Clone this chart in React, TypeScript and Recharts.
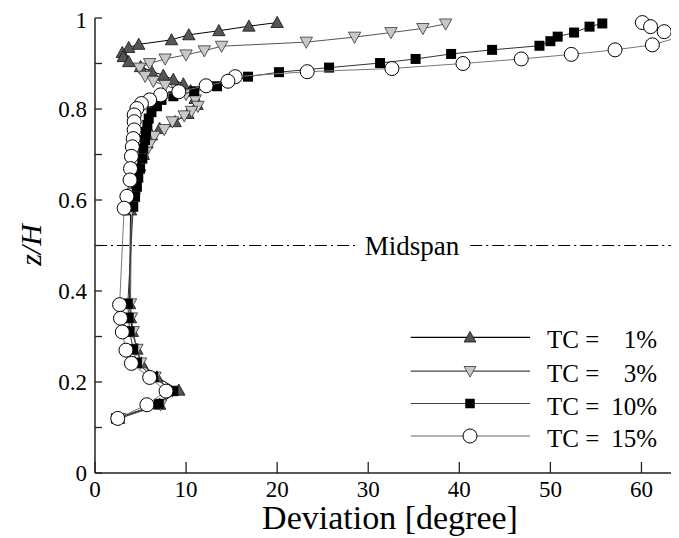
import React from 'react';
import { ScatterChart, Scatter, XAxis, YAxis, ReferenceLine, ReferenceDot, Legend, Label } from 'recharts';

const FONT = '"Liberation Serif", "Times New Roman", "DejaVu Serif", serif';

type P = [number, number];

// Deviation [degree], z/H
const tc1: P[] = [
  [20.0, 0.990], [16.9, 0.982], [13.6, 0.972], [10.3, 0.963], [8.4, 0.952], [4.8, 0.942],
  [3.7, 0.935], [3.0, 0.924], [3.1, 0.915], [3.7, 0.904], [5.0, 0.893], [6.2, 0.883],
  [7.5, 0.874], [8.6, 0.865], [9.7, 0.855], [10.5, 0.840], [11.0, 0.823], [11.2, 0.810],
  [10.2, 0.790], [8.8, 0.772], [7.1, 0.757], [6.2, 0.743], [5.7, 0.725], [5.3, 0.700],
  [4.9, 0.675], [4.6, 0.650], [4.3, 0.625], [4.0, 0.600], [3.9, 0.578], [3.8, 0.372],
  [3.9, 0.341], [4.1, 0.311], [4.6, 0.272], [5.1, 0.242], [6.8, 0.211], [9.2, 0.182],
  [7.1, 0.151], [2.6, 0.120],
];

const tc3: P[] = [
  [38.5, 0.987], [36.0, 0.977], [32.5, 0.968], [28.5, 0.958], [23.2, 0.947], [13.9, 0.938],
  [12.0, 0.928], [10.0, 0.919], [7.7, 0.910], [6.0, 0.900], [4.9, 0.890], [5.5, 0.872],
  [6.4, 0.861], [7.7, 0.852], [9.0, 0.843], [10.0, 0.832], [11.0, 0.820], [11.3, 0.806],
  [10.6, 0.795], [9.8, 0.785], [8.5, 0.772], [7.6, 0.755], [6.5, 0.740], [6.0, 0.722],
  [5.6, 0.705], [5.2, 0.685], [4.8, 0.662], [4.5, 0.640], [4.2, 0.615], [4.1, 0.590],
  [4.0, 0.578], [3.9, 0.372], [4.0, 0.341], [4.2, 0.311], [4.6, 0.272], [5.0, 0.242],
  [6.6, 0.211], [8.5, 0.180], [7.2, 0.150], [2.7, 0.120],
];

const tc10: P[] = [
  [55.7, 0.988], [54.3, 0.981], [52.6, 0.968], [50.8, 0.959], [50.0, 0.949], [48.8, 0.939],
  [43.6, 0.930], [39.1, 0.921], [35.2, 0.910], [31.3, 0.901], [25.7, 0.891], [20.2, 0.881],
  [16.8, 0.871], [13.4, 0.850], [10.9, 0.839], [8.6, 0.828], [7.3, 0.820], [6.8, 0.806],
  [6.2, 0.793], [5.9, 0.779], [5.75, 0.765], [5.6, 0.750], [5.5, 0.732], [5.3, 0.713],
  [5.2, 0.691], [4.95, 0.669], [4.75, 0.651], [4.6, 0.629], [4.4, 0.607], [4.2, 0.585],
  [3.6, 0.372], [3.7, 0.341], [3.8, 0.311], [4.2, 0.272], [4.6, 0.242], [6.4, 0.211],
  [8.6, 0.180], [7.0, 0.152], [2.3, 0.120],
];

const tc15: P[] = [
  [60.1, 0.990], [61.0, 0.981], [62.5, 0.970], [64.3, 0.959], [61.2, 0.941], [57.1, 0.930],
  [52.3, 0.920], [46.8, 0.910], [40.4, 0.900], [32.6, 0.889], [23.3, 0.882], [15.4, 0.871],
  [14.6, 0.861], [12.2, 0.851], [9.2, 0.838], [7.2, 0.831], [6.0, 0.820], [5.1, 0.812],
  [4.6, 0.801], [4.3, 0.787], [4.3, 0.772], [4.3, 0.754], [4.2, 0.735], [4.1, 0.717],
  [4.0, 0.696], [3.9, 0.669], [3.85, 0.644], [3.5, 0.608], [3.2, 0.582], [2.7, 0.370],
  [2.8, 0.340], [3.0, 0.310], [3.4, 0.270], [4.0, 0.241], [6.0, 0.210], [7.8, 0.180],
  [5.7, 0.150], [2.5, 0.120],
];

const xTicks = [0, 10, 20, 30, 40, 50, 60];
const yTicks = [0, 0.1, 0.2, 0.3, 0.4, 0.5, 0.6, 0.7, 0.8, 0.9, 1];
const yLabelTicks = [0, 0.2, 0.4, 0.6, 0.8, 1];
const legendNames = ['TC =   1%', 'TC =   3%', 'TC = 10%', 'TC = 15%'];
const legendPct = ['1%', '3%', '10%', '15%'];
const midspanZ = 0.5;
const midspanGap: [number, number] = [29.0, 41.2];
const midspanLabelX = 34.8;
const xDomain: [number, number] = [0, 65];

const toObj = (pts: P[]) => pts.map(([x, y]) => ({ x, y }));

type Kind = 'up' | 'down' | 'square' | 'circle';

const Marker = ({ kind, cx, cy, s = 1 }: { kind: Kind; cx: number; cy: number; s?: number }) => {
  if (kind === 'up') {
    const h = 6.2 * s;
    return <polygon points={`${cx},${cy - h} ${cx - h},${cy + h * 0.8} ${cx + h},${cy + h * 0.8}`} fill="#555" stroke="#111" strokeWidth={0.8} />;
  }
  if (kind === 'down') {
    const h = 6.2 * s;
    return <polygon points={`${cx - h},${cy - h * 0.8} ${cx + h},${cy - h * 0.8} ${cx},${cy + h}`} fill="#c8c8c8" stroke="#333" strokeWidth={0.8} />;
  }
  if (kind === 'square') {
    const h = 5 * s;
    return <rect x={cx - h} y={cy - h} width={2 * h} height={2 * h} fill="#000" />;
  }
  return <circle cx={cx} cy={cy} r={7 * s} fill="#fff" stroke="#000" strokeWidth={1} />;
};

const series = [
  { data: tc1, kind: 'up' as Kind, line: '#000', legendLine: '#000' },
  { data: tc3, kind: 'down' as Kind, line: '#555', legendLine: '#444' },
  { data: tc10, kind: 'square' as Kind, line: '#333', legendLine: '#444' },
  { data: tc15, kind: 'circle' as Kind, line: '#777', legendLine: '#666' },
];

const textStyle = (size: number, italic = false): React.CSSProperties => ({
  fontFamily: FONT,
  fontSize: size,
  fontStyle: italic ? 'italic' : 'normal',
  fill: '#000',
});

const XTick = (props: any) => {
  const { x, y, payload } = props;
  return (
    <g>
      <line x1={x} x2={x} y1={y - 8} y2={y - 19} stroke="#222" strokeWidth={1.3} />
      <text x={x} y={y} dy="0.71em" textAnchor="middle" style={textStyle(23)}>
        {payload.value}
      </text>
    </g>
  );
};

const YTick = (props: any) => {
  const { x, y, payload } = props;
  const v: number = payload.value;
  const show = yLabelTicks.some((t) => Math.abs(t - v) < 1e-6);
  const label = v === 0 ? '0' : v === 1 ? '1' : v.toFixed(1);
  return (
    <g>
      <line x1={x + 8} x2={x + 15} y1={y} y2={y} stroke="#222" strokeWidth={1.3} />
      {show && (
        <text x={x} y={y} dy={v === 1 ? '0.45em' : '0.35em'} textAnchor="end" style={textStyle(23)}>
          {label}
        </text>
      )}
    </g>
  );
};

const YLabel = () => (
  <text transform="translate(22,237) rotate(-90)" textAnchor="middle" dy="0.35em" style={textStyle(30, true)}>
    z/H
  </text>
);

const XLabel = () => (
  <text x={382} y={521} textAnchor="middle" style={textStyle(34)}>
    Deviation [degree]
  </text>
);

const rowsY = [17.3, 51.2, 83.5, 116];

const LegendContent = () => (
  <svg width={280} height={135} style={{ display: 'block' }}>
    {series.map((s, i) => {
      const y = rowsY[i];
      return (
        <g key={i}>
          <line x1={10.7} x2={130} y1={y} y2={y} stroke={s.legendLine} strokeWidth={1.2} />
          <Marker kind={s.kind} cx={70} cy={y} s={s.kind === 'circle' ? 1 : 0.95} />
          <text x={147} y={y + 11} style={textStyle(25)}>TC =</text>
          <text x={257} y={y + 11} textAnchor="end" style={textStyle(25)}>
            {legendPct[i]}
          </text>
        </g>
      );
    })}
  </svg>
);

export default function App() {
  return (
    <div style={{ width: 671, height: 530, overflow: 'hidden' }}>
      <ScatterChart width={689} height={530} margin={{ top: 10, right: 10, bottom: 0, left: 0 }}>
        <XAxis
          type="number"
          dataKey="x"
          domain={xDomain}
          ticks={xTicks}
          tickSize={0}
          tickMargin={8}
          tick={<XTick />}
          height={65}
          axisLine={{ stroke: '#222', strokeWidth: 1.5 }}
          tickLine={false}
          label={<XLabel />}
        />
        <XAxis
          xAxisId="top"
          orientation="top"
          type="number"
          domain={xDomain}
          height={0}
          tick={false}
          tickLine={false}
          axisLine={{ stroke: '#333', strokeWidth: 1.3 }}
        />
        <YAxis
          type="number"
          dataKey="y"
          domain={[0, 1]}
          ticks={yTicks}
          tickSize={0}
          tickMargin={8}
          tick={<YTick />}
          width={87}
          axisLine={{ stroke: '#222', strokeWidth: 1.5 }}
          tickLine={false}
          label={<YLabel />}
        />
        <ReferenceLine
          segment={[{ x: xDomain[0], y: midspanZ }, { x: midspanGap[0], y: midspanZ }]}
          stroke="#000"
          strokeWidth={1}
          strokeDasharray="12 4 2 4"
        />
        <ReferenceLine
          segment={[{ x: midspanGap[1], y: midspanZ }, { x: xDomain[1], y: midspanZ }]}
          stroke="#000"
          strokeWidth={1}
          strokeDasharray="12 4 2 4"
        />
        <ReferenceDot
          x={midspanLabelX}
          y={midspanZ}
          r={0}
          fill="none"
          stroke="none"
          label={<Label value="Midspan" position="center" style={textStyle(27)} />}
        />
        {series.map((s, i) => (
          <Scatter
            key={i}
            name={legendNames[i]}
            data={toObj(s.data)}
            isAnimationActive={false}
            line={{ stroke: s.line, strokeWidth: 1 }}
            shape={(p: any) => <Marker kind={s.kind} cx={p.cx} cy={p.cy} />}
          />
        ))}
        <Legend
          layout="vertical"
          align="center"
          verticalAlign="middle"
          content={<LegendContent />}
          wrapperStyle={{ left: 392, top: 312, width: 280, height: 135 }}
        />
      </ScatterChart>
    </div>
  );
}
